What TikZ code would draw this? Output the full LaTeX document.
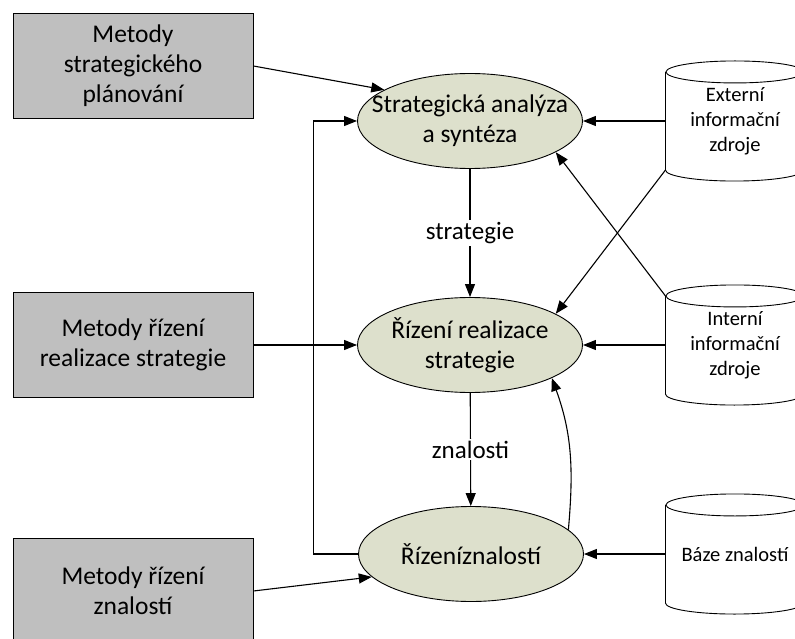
\documentclass[tikz,border=0pt]{standalone}
\usepackage{fontspec}
\setmainfont{Carlito}
\usetikzlibrary{shapes.geometric, arrows.meta}
\definecolor{metodagray}{RGB}{191,191,191}
\definecolor{procesfill}{RGB}{221,224,204}

\begin{document}
\begin{tikzpicture}[x=1pt, y=-1pt, >={Triangle[length=13pt,width=10pt]}, line width=1.1pt,
    metoda/.style={draw, line width=0.9pt, fill=metodagray, minimum width=240pt, minimum height=105pt, align=center, font=\fontsize{25.5}{30}\selectfont},
    proces/.style={ellipse, draw, line width=0.9pt, fill=procesfill, minimum width=225pt, minimum height=95pt, inner sep=0pt},
    proctext/.style={align=center, font=\fontsize{25.5}{30}\selectfont},
    zdroj/.style={minimum width=138pt, minimum height=97pt, inner sep=0pt, align=center, font=\fontsize{20.5}{25}\selectfont},
    popis/.style={fill=white, inner sep=2pt, font=\fontsize{25}{30}\selectfont}]
    \useasboundingbox (0,0) rectangle (795,639);
    \clip (0,0) rectangle (795,639);

    % Metody
    \node[metoda] (mstrat) at (133,66) {Metody\\strategického\\plánování};
    \node[metoda] (mreal) at (133,345) {Metody řízení\\realizace strategie};
    \node[metoda] (mzna) at (133,591) {Metody řízení\\znalostí};

    % Procesy
    \node[proces, label={[proctext]center:Strategická analýza\\a syntéza}] (strat) at (470,121) {};
    \node[proces, label={[proctext]center:Řízení realizace\\strategie}] (real) at (470,345) {};
    \node[proces, label={[proctext]center:Řízeníznalostí}] (zna) at (471,554) {};

    % Zdroje (valce)
    \node[zdroj] (ext) at (735,121) {Externí\\informační\\zdroje};
    \node[zdroj] (int) at (735,345) {Interní\\informační\\zdroje};
    \node[zdroj] (baze) at (735,554) {Báze znalostí};
    \foreach \z in {ext, int, baze} {
        \draw[line width=0.9pt] (\z.north west) -- (\z.south west)
            arc[start angle=180, end angle=360, x radius=69pt, y radius=11pt] -- (\z.north east);
        \draw[line width=0.9pt] (\z.north) ellipse[x radius=69pt, y radius=11pt];
    }

    % Vazby
    \draw[->] (mstrat.east) -- (strat.160);
    \draw[->] (mreal) -- (real);
    \draw[->] (mzna.east) -- (zna.193);
    \draw[->] (zna.west) -- ++(-45,0) |- (strat.west);
    \draw[->] (strat) -- node[popis] {strategie} (real);
    \draw[->] (real) -- node[popis] {znalosti} (zna);
    \draw[->] (ext) -- (strat);
    \draw[->] (int) -- (real);
    \draw[->] (baze) -- (zna);
    \draw[->] (ext.south west) -- (real.20);
    \draw[->] (int.north west) -- (strat.-20);
    \draw[->] (zna.14) to[out=85, in=-70] (real.-22);
\end{tikzpicture}
\end{document}
